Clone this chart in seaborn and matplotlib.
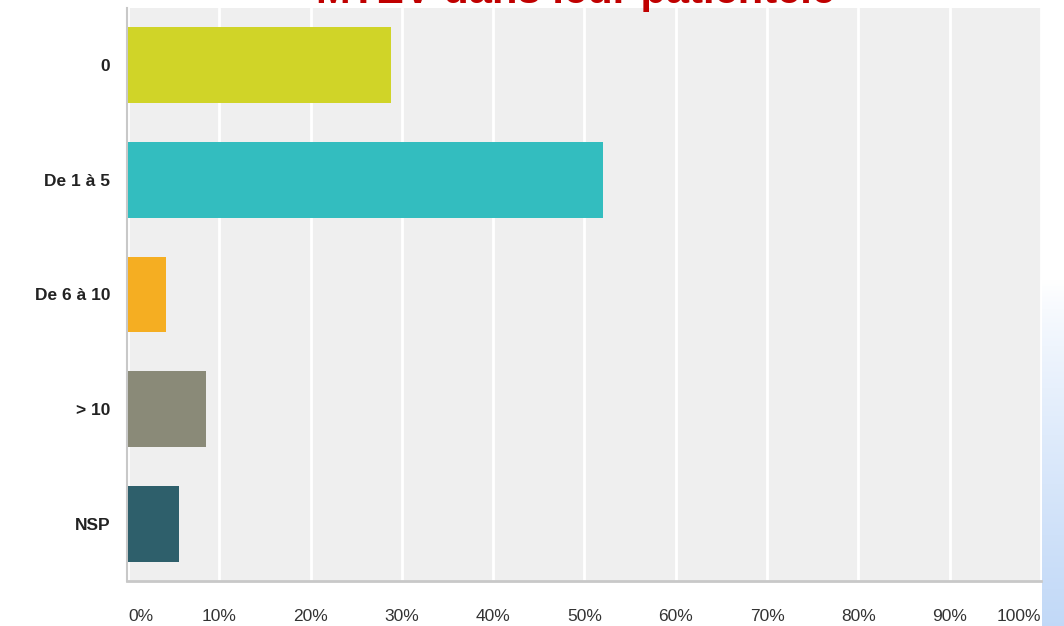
import numpy as np
import pandas as pd
import matplotlib
matplotlib.use("Agg")
import matplotlib.pyplot as plt
import seaborn as sns
from matplotlib import font_manager

categories = ["0", "De 1 à 5", "De 6 à 10", "> 10", "NSP"]
percent = [28.8, 52.0, 4.2, 8.5, 5.6]
colors = ["#d0d428", "#33bdbf", "#f5ae22", "#8a8a78", "#2e5f6b"]
xtick_values = [0, 10, 20, 30, 40, 50, 60, 70, 80, 90, 100]
xtick_labels = ["0%", "10%", "20%", "30%", "40%", "50%", "60%", "70%", "80%", "90%", "100%"]
title = "MTEV dans leur patientèle"

sns.set_theme(style="white")
installed = {f.name for f in font_manager.fontManager.ttflist}
narrow = "Liberation Sans Narrow" if "Liberation Sans Narrow" in installed else "Liberation Sans"
plt.rcParams["font.family"] = [narrow, "DejaVu Sans"]

df = pd.DataFrame({"cat": categories, "pct": percent})

fig = plt.figure(figsize=(10.64, 6.26), dpi=100)
fig.patch.set_facecolor("white")

# slide background strip on the right edge
grad_ax = fig.add_axes([1042 / 1064, 0, 22 / 1064, 1])
g = np.linspace(0, 1, 256)
g = np.clip((g - 0.45) / 0.55, 0, 1) ** 0.8
rgb = np.array([1, 1, 1])[None, :] * (1 - g[:, None]) + np.array([0.76, 0.85, 0.97])[None, :] * g[:, None]
grad_ax.imshow(rgb[:, None, :], aspect="auto", extent=[0, 1, 0, 1], origin="upper")
grad_ax.axis("off")

ax = fig.add_axes([127 / 1064, 1 - 581 / 626, (1041 - 127) / 1064, (581 - 8) / 626])
ax.set_facecolor("#efefef")

sns.barplot(data=df, x="pct", y="cat", hue="cat", palette=colors, order=categories,
            hue_order=categories, legend=False, width=0.66, orient="h", saturation=1,
            edgecolor="none", linewidth=0, ax=ax, zorder=3)

ax.set_xlim(-0.1, 100)
ax.set_ylim(4.5, -0.5)
ax.set_xticks(xtick_values)
ax.set_xticklabels(xtick_labels)
ax.grid(axis="x", color="white", linewidth=2, zorder=1)
ax.set_axisbelow(True)
ax.set_xlabel("")
ax.set_ylabel("")

for s in ["top", "right"]:
    ax.spines[s].set_visible(False)
ax.spines["left"].set_color("#c8c8c8")
ax.spines["bottom"].set_color("#c8c8c8")
ax.spines["left"].set_linewidth(1.5)
ax.spines["bottom"].set_linewidth(2)

ax.tick_params(axis="x", length=0, pad=20, labelsize=12.5, labelcolor="#333333")
ax.tick_params(axis="y", length=0, pad=12, labelsize=12.5, labelcolor="#222222")
for lbl in ax.get_yticklabels():
    lbl.set_fontweight("bold")
xl = ax.get_xticklabels()
xl[0].set_horizontalalignment("left")
xl[-1].set_horizontalalignment("right")

fig.text(575 / 1064, 1 - 3 / 626, title, ha="center", va="baseline",
         fontsize=30, fontweight="bold", color="#c00000",
         family=["Liberation Sans", "DejaVu Sans"])

fig.savefig("out.png", dpi=100)
